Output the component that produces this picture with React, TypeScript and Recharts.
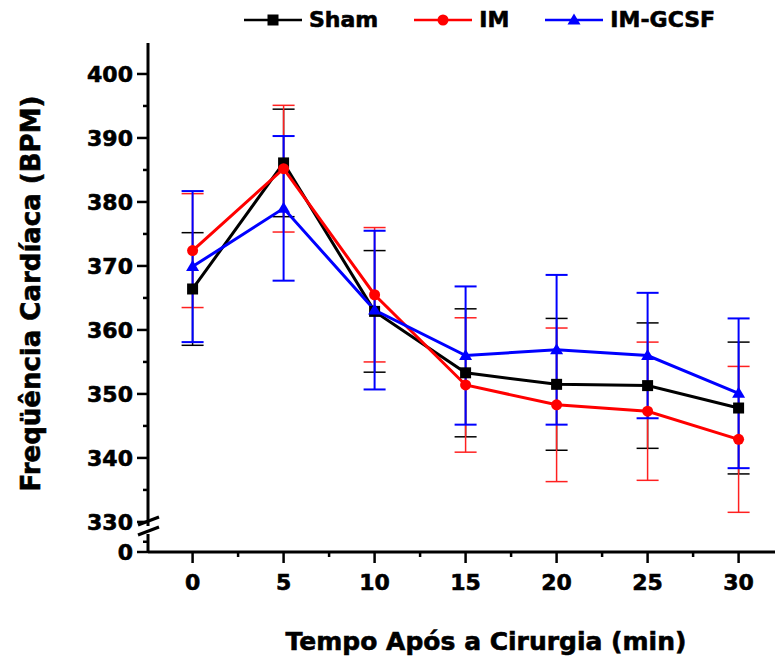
import { LineChart, Line, XAxis, YAxis, ErrorBar, Legend } from "recharts";

// minutes after surgery
const minutes = [0, 5, 10, 15, 20, 25, 30];

// heart rate (BPM), mean and error
const shamBpm = [366.4, 386.1, 362.9, 353.3, 351.5, 351.3, 347.8];
const shamErr = [8.8, 8.4, 9.5, 10.0, 10.3, 9.8, 10.3];
const imBpm = [372.4, 385.2, 365.5, 351.4, 348.3, 347.3, 342.9];
const imErr = [8.9, 9.9, 10.5, 10.5, 12.0, 10.8, 11.4];
const gcsfBpm = [369.9, 379.0, 363.1, 356.0, 356.9, 356.0, 350.1];
const gcsfErr = [11.8, 11.3, 12.4, 10.8, 11.7, 9.8, 11.7];

const xMajorTicks = [0, 5, 10, 15, 20, 25, 30];
const xMinorTicks = [2.5, 7.5, 12.5, 17.5, 22.5, 27.5];
const yMajorTicks = [330, 340, 350, 360, 370, 380, 390, 400];
const yMinorTicks = [335, 345, 355, 365, 375, 385, 395];
// broken axis: the lower stub stands for 0
const yZeroStub = 325.3;
const yStubMinor = 326.9;

const FONT = "'DejaVu Sans', sans-serif";

const series = [
  { key: "sham", err: "shamErr", name: "Sham", color: "#000000", barColor: "#000000", shape: "square" },
  { key: "im", err: "imErr", name: "IM", color: "#ff0000", barColor: "#ff2020", shape: "circle" },
  { key: "gcsf", err: "gcsfErr", name: "IM-GCSF", color: "#0000ff", barColor: "#0000ff", shape: "triangle" },
];

const data = minutes.map((t, i) => ({
  t,
  sham: shamBpm[i],
  shamErr: shamErr[i],
  im: imBpm[i],
  imErr: imErr[i],
  gcsf: gcsfBpm[i],
  gcsfErr: gcsfErr[i],
}));

const boldText = {
  fontFamily: FONT,
  fontWeight: "bold" as const,
  fill: "#000",
  stroke: "#000",
  strokeWidth: 0.6,
};

function Marker({ shape, color, cx, cy }: any) {
  if (shape === "square") {
    return <rect x={cx - 5.5} y={cy - 5.5} width={11} height={11} fill={color} />;
  }
  if (shape === "circle") {
    return <circle cx={cx} cy={cy} r={5.5} fill={color} />;
  }
  return (
    <polygon
      points={`${cx},${cy - 6.5} ${cx + 6.5},${cy + 4.5} ${cx - 6.5},${cy + 4.5}`}
      fill={color}
    />
  );
}

function YTick(props: any) {
  const { x, y, payload } = props;
  const v = payload.value;
  const isMajor = yMajorTicks.includes(v);
  const isZero = v === yZeroStub;
  const len = isMajor || isZero ? 11 : 5;
  return (
    <g>
      <line x1={x} y1={y} x2={x - len} y2={y} stroke="#000" strokeWidth={2.5} />
      {(isMajor || isZero) && (
        <text x={x - 15} y={y + 8} textAnchor="end" fontSize={22} {...boldText}>
          {isZero ? "0" : v}
        </text>
      )}
      {isZero && (
        <g>
          <rect x={x - 3} y={y - 26} width={6} height={8} fill="#fff" />
          <line x1={x - 10} y1={y - 27} x2={x + 11} y2={y - 35} stroke="#000" strokeWidth={3} />
          <line x1={x - 10} y1={y - 17} x2={x + 11} y2={y - 25} stroke="#000" strokeWidth={3} />
        </g>
      )}
    </g>
  );
}

function XTick(props: any) {
  const { x, y, payload } = props;
  const v = payload.value;
  const isMajor = xMajorTicks.includes(v);
  return (
    <g>
      <line x1={x} y1={y} x2={x} y2={y + (isMajor ? 11 : 5)} stroke="#000" strokeWidth={2.5} />
      {isMajor && (
        <text x={x} y={y + 38} textAnchor="middle" fontSize={22} {...boldText}>
          {v}
        </text>
      )}
    </g>
  );
}

function LegendRow() {
  return (
    <div style={{ display: "flex", alignItems: "center", paddingLeft: 244, paddingTop: 8 }}>
      {series.map((s) => (
        <div key={s.key} style={{ display: "flex", alignItems: "center", marginRight: 36 }}>
          <svg width={58} height={16} style={{ marginRight: 7 }}>
            <line x1={0} y1={8} x2={58} y2={8} stroke={s.color} strokeWidth={2.5} />
            <Marker shape={s.shape} color={s.color} cx={29} cy={8} />
          </svg>
          <span
            style={{
              fontFamily: FONT,
              fontWeight: "bold",
              fontSize: 22,
              lineHeight: "24px",
              color: "#000",
              WebkitTextStroke: "0.6px #000",
            }}
          >
            {s.name}
          </span>
        </div>
      ))}
    </div>
  );
}

export default function App() {
  return (
    <div style={{ width: 775, height: 657, background: "#fff" }}>
      <style>{"body{margin:0;background:#fff}"}</style>
      <LineChart
        width={775}
        height={657}
        data={data}
        margin={{ top: 43, right: 0, bottom: 0, left: 0 }}
      >
        <XAxis
          dataKey="t"
          type="number"
          domain={[-2.45, 32]}
          allowDataOverflow
          ticks={[...xMajorTicks, ...xMinorTicks]}
          interval={0}
          height={105}
          tickSize={0}
          tickMargin={0}
          tickLine={false}
          axisLine={{ stroke: "#000", strokeWidth: 3 }}
          tick={<XTick />}
          label={({ viewBox }: any) => (
            <text
              x={viewBox.x + 338}
              y={viewBox.y + 98}
              textAnchor="middle"
              fontSize={25}
              {...boldText}
            >
              Tempo Após a Cirurgia (min)
            </text>
          )}
        />
        <YAxis
          type="number"
          domain={[yZeroStub, 404.84]}
          allowDataOverflow
          ticks={[yZeroStub, yStubMinor, ...yMajorTicks, ...yMinorTicks]}
          interval={0}
          width={148}
          tickSize={0}
          tickMargin={0}
          tickLine={false}
          axisLine={{ stroke: "#000", strokeWidth: 3 }}
          tick={<YTick />}
          label={({ viewBox }: any) => {
            const cx = viewBox.x + 40;
            const cy = viewBox.y + viewBox.height / 2 - 4;
            return (
              <text
                x={cx}
                y={cy}
                transform={`rotate(-90 ${cx} ${cy})`}
                textAnchor="middle"
                fontSize={26}
                {...boldText}
              >
                Freqüência Cardíaca (BPM)
              </text>
            );
          }}
        />
        <Legend
          layout="vertical"
          verticalAlign="middle"
          align="center"
          wrapperStyle={{ top: 0, left: 0, width: 775 }}
          content={() => <LegendRow />}
        />
        {series.map((s) => (
          <Line
            key={s.key}
            dataKey={s.key}
            name={s.name}
            type="linear"
            stroke={s.color}
            strokeWidth={3}
            isAnimationActive={false}
            dot={(p: any) => (
              <Marker key={`${s.key}-${p.index}`} shape={s.shape} color={s.color} cx={p.cx} cy={p.cy} />
            )}
            activeDot={false}
          >
            <ErrorBar
              dataKey={s.err}
              direction="y"
              width={11}
              stroke={s.barColor}
              strokeWidth={s.key === "gcsf" ? 2 : 1.5}
              isAnimationActive={false}
            />
          </Line>
        ))}
      </LineChart>
    </div>
  );
}
